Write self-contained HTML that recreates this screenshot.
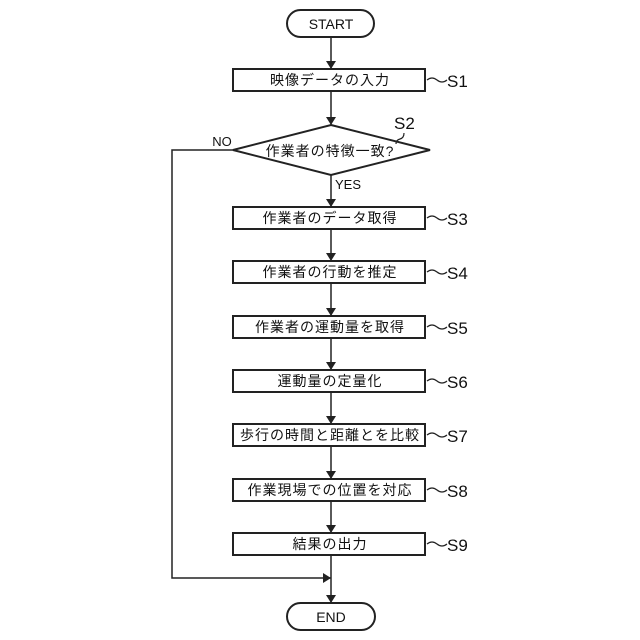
<!DOCTYPE html>
<html><head><meta charset="utf-8"><style>html,body{margin:0;padding:0;background:#fff}svg{display:block}</style></head><body>
<svg width="640" height="640" viewBox="0 0 640 640" xmlns="http://www.w3.org/2000/svg" font-family="'Liberation Sans','Noto Sans CJK JP',sans-serif" fill="none" stroke="#222" stroke-width="1.5">
<defs><marker id="a" markerWidth="8" markerHeight="10" refX="8" refY="5" orient="auto" markerUnits="userSpaceOnUse"><path d="M0,0 L8,5 L0,10 Z" fill="#222" stroke="none"/></marker></defs>
<rect x="287" y="10" width="87" height="27" rx="13.5" stroke-width="2"/>
<rect x="287" y="603" width="88" height="27" rx="13.5" stroke-width="2"/>
<g stroke-width="2">
<rect x="233" y="69" width="192" height="22"/>
<rect x="233" y="207" width="192" height="22"/>
<rect x="233" y="261" width="192" height="22"/>
<rect x="233" y="316" width="192" height="22"/>
<rect x="233" y="370" width="192" height="22"/>
<rect x="233" y="424" width="192" height="22"/>
<rect x="233" y="479" width="192" height="22"/>
<rect x="233" y="533" width="192" height="22"/>
<polygon points="331,125 430,150 331,175 233,150"/>
</g>
<g marker-end="url(#a)">
<line x1="331" y1="37" x2="331" y2="69"/>
<line x1="331" y1="91" x2="331" y2="125"/>
<line x1="331" y1="175" x2="331" y2="207"/>
<line x1="331" y1="229" x2="331" y2="261"/>
<line x1="331" y1="283" x2="331" y2="316"/>
<line x1="331" y1="338" x2="331" y2="370"/>
<line x1="331" y1="392" x2="331" y2="424"/>
<line x1="331" y1="446" x2="331" y2="479"/>
<line x1="331" y1="501" x2="331" y2="533"/>
<line x1="331" y1="555" x2="331" y2="603"/>
<polyline points="233,150 172,150 172,578 331,578"/>
</g>
<g stroke-width="1.2">
<path d="M427,80 q5,-4 10,0 t10,0"/>
<path d="M427,218 q5,-4 10,0 t10,0"/>
<path d="M427,272 q5,-4 10,0 t10,0"/>
<path d="M427,327 q5,-4 10,0 t10,0"/>
<path d="M427,381 q5,-4 10,0 t10,0"/>
<path d="M427,435 q5,-4 10,0 t10,0"/>
<path d="M427,490 q5,-4 10,0 t10,0"/>
<path d="M427,544 q5,-4 10,0 t10,0"/>
<path d="M404,133 q0,5 -4,6 t-4,5"/>
</g>
<g fill="#111" stroke="none" font-size="14" text-anchor="middle" letter-spacing="1">
<text x="331" y="29" letter-spacing="0">START</text>
<text x="331" y="622" letter-spacing="0">END</text>
<text x="330" y="85">映像データの入力</text>
<text x="330" y="156">作業者の特徴一致?</text>
<text x="330" y="223">作業者のデータ取得</text>
<text x="330" y="277">作業者の行動を推定</text>
<text x="330" y="332">作業者の運動量を取得</text>
<text x="330" y="386">運動量の定量化</text>
<text x="330" y="440">歩行の時間と距離とを比較</text>
<text x="330" y="495">作業現場での位置を対応</text>
<text x="330" y="549">結果の出力</text>
<text x="222" y="146" font-size="13" letter-spacing="0">NO</text>
<text x="348" y="189" font-size="13" letter-spacing="0">YES</text>
</g>
<g fill="#111" stroke="none" font-size="17" text-anchor="start">
<text x="447" y="87">S1</text>
<text x="394" y="129">S2</text>
<text x="447" y="225">S3</text>
<text x="447" y="279">S4</text>
<text x="447" y="334">S5</text>
<text x="447" y="388">S6</text>
<text x="447" y="442">S7</text>
<text x="447" y="497">S8</text>
<text x="447" y="551">S9</text>
</g>
</svg>
</body></html>
